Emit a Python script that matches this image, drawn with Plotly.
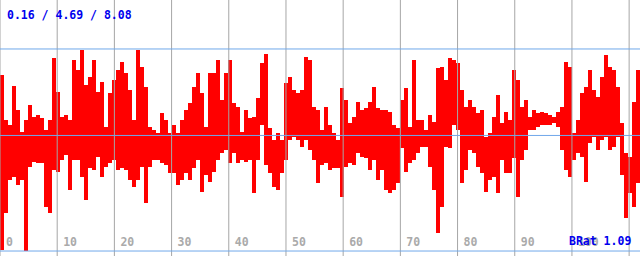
import numpy as np
import plotly.graph_objects as go

# envelope of the signal per ~4px block (high / low values)
hi = [7.06, 5.30, 5.10, 6.63, 5.69, 4.83, 5.30, 5.88, 5.41, 5.49,
      5.37, 4.90, 5.30, 7.73, 6.39, 5.41, 5.49, 5.30, 7.65, 7.26,
      8.04, 6.67, 6.98, 7.65, 6.39, 6.79, 5.02, 6.35, 6.86, 7.26,
      7.57, 7.14, 6.47, 5.30, 8.04, 7.37, 6.59, 5.02, 4.90, 4.79,
      5.57, 5.30, 4.79, 5.10, 4.79, 5.30, 5.69, 5.96, 6.59, 7.14,
      6.35, 5.02, 7.14, 7.14, 7.65, 6.08, 7.14, 7.65, 5.96, 5.81,
      4.83, 5.69, 5.37, 5.41, 6.16, 7.53, 7.88, 4.98, 4.51, 4.79,
      4.51, 6.75, 6.98, 6.47, 6.35, 6.47, 7.77, 7.65, 5.81, 5.69,
      4.90, 5.81, 5.10, 4.79, 4.51, 6.55, 6.08, 5.18, 5.41, 6.00,
      5.69, 5.77, 6.00, 6.59, 5.77, 5.69, 5.69, 5.61, 5.10, 4.98,
      6.08, 6.55, 5.02, 7.65, 5.30, 5.30, 4.90, 5.49, 5.22, 7.33,
      7.37, 6.86, 7.73, 7.65, 7.53, 6.47, 5.81, 6.08, 5.81, 5.57,
      5.69, 4.63, 4.79, 5.41, 6.28, 5.18, 5.61, 5.30, 7.26, 6.86,
      5.81, 6.08, 5.41, 5.69, 5.57, 5.61, 5.57, 5.49, 5.41, 5.61,
      5.81, 7.57, 7.37, 4.79, 5.30, 6.35, 6.59, 7.26, 6.47, 6.20,
      6.98, 7.84, 7.37, 7.26, 6.59, 5.18, 4.00, 3.85, 6.00, 7.26]
lo = [0.20, 1.65, 2.94, 3.06, 2.75, 2.94, 0.16, 3.45, 3.65, 3.61,
      3.61, 1.89, 1.65, 3.34, 3.26, 3.73, 3.92, 2.55, 3.73, 3.73,
      3.06, 2.16, 3.41, 3.34, 3.85, 3.06, 3.45, 3.61, 3.73, 3.34,
      3.41, 3.34, 2.94, 2.67, 2.94, 3.45, 2.04, 3.45, 3.73, 3.73,
      3.61, 3.53, 3.22, 3.22, 2.75, 2.94, 3.22, 2.94, 3.41, 3.73,
      2.47, 3.14, 2.87, 3.26, 3.73, 4.00, 4.12, 3.61, 4.00, 3.61,
      3.73, 3.65, 3.73, 2.43, 3.73, 5.10, 3.53, 3.22, 2.67, 2.55,
      3.22, 3.73, 4.51, 4.63, 4.51, 4.24, 4.51, 4.12, 3.73, 2.83,
      3.53, 3.61, 3.34, 3.41, 3.41, 2.28, 3.45, 3.61, 3.53, 4.00,
      3.85, 3.81, 3.34, 3.73, 2.94, 3.34, 2.55, 2.43, 2.55, 2.83,
      4.20, 3.26, 3.61, 3.73, 4.00, 4.24, 4.24, 3.45, 2.55, 0.87,
      1.89, 4.24, 4.20, 5.10, 4.90, 2.83, 3.34, 4.12, 4.00, 3.45,
      3.22, 2.47, 2.94, 3.06, 2.43, 3.73, 3.22, 3.22, 3.81, 2.28,
      3.73, 4.12, 4.90, 4.90, 5.02, 5.10, 5.10, 5.10, 5.18, 5.02,
      4.12, 3.34, 3.06, 3.73, 4.00, 3.85, 2.87, 4.39, 4.63, 4.12,
      4.51, 4.63, 4.12, 4.24, 4.63, 3.14, 1.45, 2.43, 1.89, 2.83]
stats = [0.16, 4.69, 8.08]          # min / mean / max
brat = 1.09
tick_vals = list(range(0, 120, 10))
tick_text = [str(v) for v in tick_vals]

step = 0.699
t = np.arange(len(hi)) * step + step / 2
height = [h - l for h, l in zip(hi, lo)]

fig = go.Figure()
fig.add_trace(go.Bar(x=t, y=height, base=lo, width=step,
                     marker=dict(color="#ff0000", line=dict(width=0)),
                     hoverinfo="skip", showlegend=False))

# vertical grid drawn above the signal
for v in tick_vals:
    fig.add_shape(type="line", xref="x", x0=v, x1=v, yref="paper", y0=0, y1=1,
                  line=dict(color="#a6a6a6", width=1), layer="above")
for s in stats:
    fig.add_shape(type="line", xref="paper", x0=0, x1=1, yref="y", y0=s, y1=s,
                  line=dict(color="#70a8ea", width=1), layer="above")

mono = "DejaVu Sans Mono"
fig.add_annotation(xref="paper", yref="paper", x=0.008, y=0.94, xanchor="left", yanchor="middle",
                   text="<b>%.2f / %.2f / %.2f</b>" % tuple(stats), showarrow=False,
                   font=dict(family=mono, size=11.5, color="#0000ee"))
fig.add_annotation(xref="paper", yref="paper", x=0.989, y=0.058, xanchor="right", yanchor="middle",
                   text="<b>BRat %.2f</b>" % brat, showarrow=False,
                   font=dict(family=mono, size=11.5, color="#0000ee"))

fig.update_layout(
    width=640, height=256, margin=dict(l=0, r=0, t=0, b=0),
    paper_bgcolor="white", plot_bgcolor="white", bargap=0,
    xaxis=dict(range=[0, 111.9], tickvals=tick_vals, ticktext=["<b>%s</b>" % s for s in tick_text],
               showgrid=False, zeroline=False,
               ticklabelposition="inside right", ticklabelshift=6, ticklabelstandoff=2,
               tickfont=dict(family=mono, size=11.5, color="#aaaaaa"),
               showline=False, ticks=""),
    yaxis=dict(range=[-0.035, 10.0], showgrid=False, zeroline=False, showticklabels=False),
)
fig.write_html("out.html")
